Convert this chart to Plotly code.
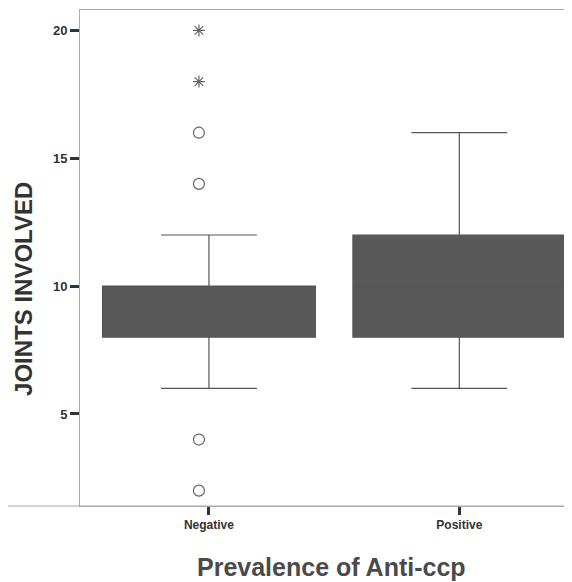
import plotly.graph_objects as go

categories = ["Negative", "Positive"]
cat_pos = [0, 1]
q1 = [8, 8]
median = [10, 10]
q3 = [10, 12]
lower_whisker = [6, 6]
upper_whisker = [12, 16]

# outliers (Negative group)
circle_outliers = [2, 4, 14, 16]
star_outliers = [18, 20]

y_ticks = [5, 10, 15, 20]

fig = go.Figure()
fig.add_trace(go.Box(
    x=cat_pos, q1=q1, median=median, q3=q3,
    lowerfence=lower_whisker, upperfence=upper_whisker,
    boxpoints=False, width=0.85, whiskerwidth=0.45,
    fillcolor="#585858", line=dict(color="#555", width=1.2),
    showlegend=False, hoverinfo="skip"
))
fig.add_trace(go.Scatter(
    x=[cat_pos[0] - 0.04] * len(circle_outliers), y=circle_outliers,
    mode="markers",
    marker=dict(symbol="circle-open", size=11, color="#666", line=dict(width=1.2)),
    showlegend=False
))
fig.add_trace(go.Scatter(
    x=[cat_pos[0] - 0.04] * len(star_outliers), y=star_outliers,
    mode="markers",
    marker=dict(symbol="asterisk-open", size=10, color="#666", line=dict(width=1.2, color="#666")),
    showlegend=False
))

fig.update_layout(
    width=564, height=574,
    margin=dict(l=72, r=0, t=2, b=76),
    paper_bgcolor="white", plot_bgcolor="white",
    font=dict(family="Liberation Sans, Arial", color="#333"),
    xaxis=dict(
        range=[-0.515, 1.45], tickvals=cat_pos, ticktext=[f"<b>{c}</b>" for c in categories],
        showgrid=False, zeroline=False, showline=True, mirror=True, automargin=False,
        linecolor="#aaa", linewidth=1,
        ticks="outside", ticklen=8, tickwidth=3, tickcolor="#333",
        tickfont=dict(size=12, color="#333"),
    ),
    yaxis=dict(
        range=[1.4, 20.8], tickvals=y_ticks, ticktext=[f"<b>{t}</b>" for t in y_ticks],
        showgrid=False, zeroline=False, showline=True, linecolor="#aaa", linewidth=1,
        automargin=False,
        ticks="outside", ticklen=9, tickwidth=3, tickcolor="#333",
        tickfont=dict(size=13, color="#333"),
    ),
)
fig.add_annotation(text="<b>JOINTS INVOLVED</b>", textangle=-90, showarrow=False,
                   xref="paper", yref="paper", x=-0.116, y=0.4375,
                   xanchor="center", yanchor="middle", borderpad=0,
                   font=dict(size=24, color="#333"))
fig.add_annotation(text="<b>Prevalence of Anti-ccp</b>", showarrow=False,
                   xref="paper", yref="paper", x=0.512, y=-0.123,
                   xanchor="center", yanchor="middle",
                   font=dict(size=25, color="#4a4a4a"))
fig.add_shape(type="line", xref="paper", yref="paper", x0=-72/492, x1=1, y0=0, y1=0,
              line=dict(color="#aaa", width=1))
fig.write_html("out.html")
